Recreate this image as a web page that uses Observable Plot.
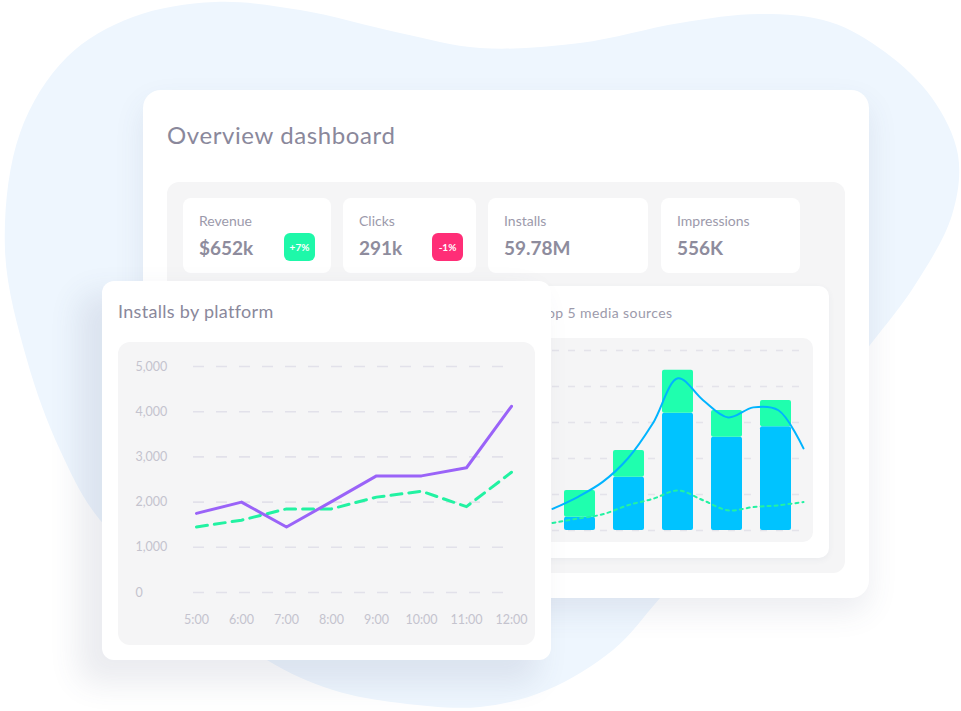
<!DOCTYPE html>
<html><head><meta charset="utf-8">
<script src="https://cdn.jsdelivr.net/npm/d3@7"></script>
<script src="https://cdn.jsdelivr.net/npm/@observablehq/plot@0.6"></script>
<style>
html,body{margin:0;padding:0;background:#fff;}
body{width:961px;height:711px;position:relative;overflow:hidden;font-family:Lato,"Noto Sans",sans-serif;color:#8b899b;}
.abs{position:absolute;}
.t{position:absolute;line-height:1;white-space:nowrap;}
#main{left:143px;top:90px;width:726px;height:508px;background:#fff;border-radius:18px;box-shadow:0 14px 30px rgba(70,80,120,0.10);}
#mainTitle{left:167px;top:123px;font-size:24px;letter-spacing:0.6px;color:#8a889b;}
#panel{left:167px;top:182px;width:678px;height:391px;background:#f5f5f6;border-radius:12px;}
.kpi{position:absolute;background:#fff;border-radius:8px;top:198px;height:75px;}
.kpi .lab{position:absolute;left:16px;top:16px;font-size:14px;color:#9c9aab;line-height:1;}
.kpi .val{position:absolute;left:16px;top:40px;font-size:19px;font-weight:700;color:#8e8c9d;line-height:1;}
.badge{position:absolute;top:35px;width:31px;height:28px;border-radius:6px;color:#fff;font-size:10px;font-weight:700;display:flex;align-items:center;justify-content:center;}
#rightCard{left:524px;top:286px;width:305px;height:272px;background:#fff;border-radius:10px;box-shadow:0 2px 6px rgba(70,80,120,0.06);}
#rightTitle{left:16px;top:20px;font-size:14px;letter-spacing:0.4px;color:#9c9aab;}
#rightPanel{left:16px;top:52px;width:273px;height:204px;background:#f5f5f6;border-radius:10px;}
#rightPanel svg{position:absolute;left:0;top:0;}
#leftCard{left:102px;top:281px;width:449px;height:379px;background:#fff;border-radius:12px;box-shadow:-18px 18px 30px 6px rgba(70,80,120,0.11);}
#leftTitle{left:16px;top:21px;font-size:18px;letter-spacing:0.3px;color:#8a889b;}
#leftPanel{left:16px;top:61px;width:417px;height:303px;background:#f5f5f6;border-radius:12px;}
</style></head>
<body>
<svg id="blob" class="abs" width="961" height="711" style="left:0;top:0"></svg>
<div id="main" class="abs"></div>
<div id="mainTitle" class="t">Overview dashboard</div>
<div id="panel" class="abs"></div>
<div class="kpi" style="left:183px;width:148px"><div class="lab">Revenue</div><div class="val">$652k</div><div class="badge" style="left:101px;background:#1ef8a9">+7%</div></div>
<div class="kpi" style="left:343px;width:133px"><div class="lab">Clicks</div><div class="val">291k</div><div class="badge" style="left:89px;background:#ff2e77">-1%</div></div>
<div class="kpi" style="left:488px;width:160px"><div class="lab">Installs</div><div class="val">59.78M</div></div>
<div class="kpi" style="left:661px;width:139px"><div class="lab">Impressions</div><div class="val">556K</div></div>
<div id="rightCard" class="abs"><div id="rightTitle" class="t">Top 5 media sources</div><div id="rightPanel" class="abs"></div></div>
<div id="leftCard" class="abs"><div id="leftTitle" class="t">Installs by platform</div><div id="leftPanel" class="abs"></div></div>
<script>
// ---- Installs by platform ----
const hours = ["5:00","6:00","7:00","8:00","9:00","10:00","11:00","12:00"];
const platformPurple = [1750, 2000, 1450, 2010, 2580, 2580, 2760, 4120];
const platformGreen = [1450, 1600, 1850, 1850, 2110, 2240, 1900, 2660];
const installTicks = [0, 1000, 2000, 3000, 4000, 5000];

// ---- Top 5 media sources ----
const mediaSources = ["Source 1","Source 2","Source 3","Source 4","Source 5"];
const baseInstalls = [37, 148, 326, 259, 288];
const extraInstalls = [74, 74, 119, 74, 73];
const trendSolid = [60, 93, 135, 200, 298, 423, 362, 314, 342, 334, 228];
const trendDotted = [21, 33, 45, 70, 88, 111, 84, 56, 65, 70, 79];
const mediaTicks = [0, 100, 200, 300, 400, 500];

// background decoration
const blobOutline = [[20,133],[67,57],[133,17],[215,2],[300,10],[400,33],[480,48],[580,43],[680,23],[760,14],[830,22],[885,52],[932,98],[958,155],[952,215],[915,285],[870,345],[760,480],[660,598],[613,650],[547,690],[480,707],[400,703],[333,690],[267,660],[180,590],[100,520],[60,450],[27,360],[5,250]];
d3.select("#blob").append("path")
  .attr("d", d3.line().curve(d3.curveCatmullRomClosed)(blobOutline))
  .attr("fill", "#eef6fe");

const leftData = hours.map((h, i) => ({hour: h, purple: platformPurple[i], green: platformGreen[i]}));
const leftPlot = Plot.plot({
  width: 417, height: 303,
  marginLeft: 75, marginRight: 22, marginTop: 24, marginBottom: 53,
  x: {type: "point", domain: hours, padding: 0, label: null},
  y: {domain: [0, 5000], label: null},
  style: {background: "transparent", fontFamily: "Lato, 'Noto Sans', sans-serif", fontSize: "12.5px", color: "#c4c3ce", overflow: "visible"},
  marks: [
    Plot.gridY(installTicks, {stroke: "#e2e1ea", strokeOpacity: 1, strokeWidth: 1.6, strokeDasharray: "11,12"}),
    Plot.axisY(installTicks, {tickSize: 0, tickPadding: 58, textAnchor: "start", tickFormat: d3.format(","), label: null}),
    Plot.axisX({tickSize: 0, tickPadding: 23, label: null}),
    Plot.line(leftData, {x: "hour", y: "green", stroke: "#22f2a2", strokeWidth: 3, strokeDasharray: "11,7"}),
    Plot.line(leftData, {x: "hour", y: "purple", stroke: "#9a63f8", strokeWidth: 3})
  ]
});
document.getElementById("leftPanel").appendChild(leftPlot);

const stackData = mediaSources.flatMap((s, i) => [
  {source: s, part: "base", value: baseInstalls[i]},
  {source: s, part: "extra", value: extraInstalls[i]}
]);
const common = {width: 273, height: 204, marginLeft: 12, marginRight: 10, marginTop: 12, marginBottom: 12,
  style: {background: "transparent", overflow: "visible"}};
const barPlot = Plot.plot({
  ...common,
  x: {type: "band", domain: mediaSources, paddingInner: 0.37, paddingOuter: 0.2, axis: null},
  y: {domain: [0, 500], axis: null},
  color: {domain: ["base", "extra"], range: ["#00c3ff", "#1fffae"]},
  marks: [
    Plot.gridY(mediaTicks, {stroke: "#e4e3ea", strokeOpacity: 1, strokeWidth: 1.5, strokeDasharray: "7,9"}),
    Plot.barY(stackData, {x: "source", y: "value", fill: "part", rx: 2})
  ]
});
const trendData = trendSolid.map((v, k) => ({k, solid: v, dotted: trendDotted[k]}));
const trendPlot = Plot.plot({
  ...common,
  x: {domain: [0, trendSolid.length - 1], axis: null},
  y: {domain: [0, 500], axis: null},
  marks: [
    Plot.line(trendData, {x: "k", y: "dotted", curve: "catmull-rom", stroke: "#22f2a2", strokeWidth: 2, strokeDasharray: "3,4"}),
    Plot.line(trendData, {x: "k", y: "solid", curve: "catmull-rom", stroke: "#00b4ff", strokeWidth: 2})
  ]
});
document.getElementById("rightPanel").appendChild(barPlot);
document.getElementById("rightPanel").appendChild(trendPlot);
</script>
</body></html>
